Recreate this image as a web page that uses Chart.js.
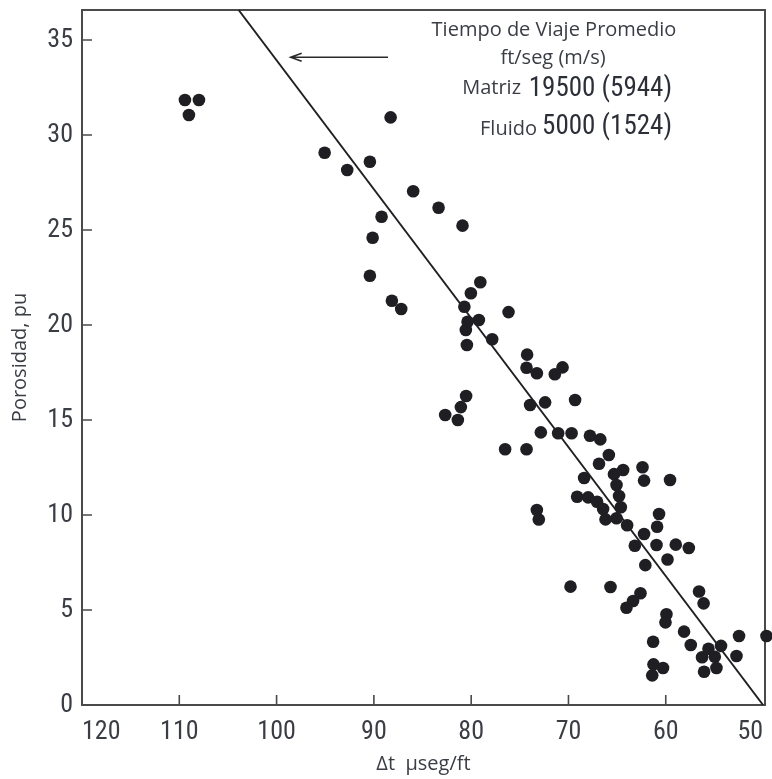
<!DOCTYPE html>
<html>
<head>
<meta charset="utf-8">
<style>
  html, body { margin: 0; padding: 0; background: #ffffff; }
  canvas { display: block; }
</style>
<script src="https://cdn.jsdelivr.net/npm/chart.js@4.4.1/dist/chart.umd.min.js"></script>
</head>
<body>
<canvas id="chart" width="772" height="779"></canvas>
<script>
// Sonic travel time (µs/ft) and measured porosity (pu) of each sample
const deltaT = [
  109.42, 107.98, 109.01, 88.28, 95.06, 92.74, 90.41, 85.96, 83.35, 80.89,
  89.21, 90.13, 90.41, 88.15, 87.19, 79.06, 80.03, 80.70, 76.16, 80.37,
  79.21, 80.55, 77.84, 80.44, 74.25, 74.31, 73.25, 71.40, 70.61, 80.52,
  81.06, 82.67, 81.37, 73.94, 72.40, 69.32, 72.84, 71.06, 69.68, 67.79,
  66.73, 76.51, 74.31, 65.85, 66.86, 64.38, 65.32, 62.39, 62.23, 59.56,
  68.39, 65.06, 69.11, 67.98, 67.06, 66.44, 64.80, 64.62, 66.19, 65.06,
  63.97, 73.25, 73.05, 60.69, 60.89, 62.23, 63.18, 60.95, 58.97, 57.63,
  59.82, 62.10, 69.79, 65.68, 62.60, 63.36, 64.04, 56.58, 56.11, 59.93,
  60.03, 58.12, 61.30, 57.43, 55.61, 54.32, 52.47, 49.65, 52.73, 56.27,
  54.96, 61.26, 60.28, 61.39, 56.06, 54.79
];
const porosity = [
  31.84, 31.84, 31.05, 30.93, 29.07, 28.16, 28.59, 27.04, 26.17, 25.23,
  25.70, 24.59, 22.59, 21.28, 20.84, 22.25, 21.67, 20.96, 20.68, 20.17,
  20.26, 19.74, 19.25, 18.95, 18.44, 17.75, 17.46, 17.41, 17.77, 16.26,
  15.68, 15.26, 15.00, 15.79, 15.93, 16.05, 14.35, 14.30, 14.30, 14.17,
  13.98, 13.46, 13.46, 13.16, 12.70, 12.37, 12.15, 12.51, 11.81, 11.84,
  11.95, 11.58, 10.96, 10.93, 10.70, 10.32, 11.00, 10.41, 9.77, 9.83,
  9.46, 10.26, 9.76, 10.05, 9.38, 9.00, 8.38, 8.42, 8.44, 8.26,
  7.66, 7.36, 6.23, 6.21, 5.88, 5.47, 5.12, 5.97, 5.35, 4.78,
  4.35, 3.86, 3.33, 3.16, 2.96, 3.11, 3.63, 3.63, 2.58, 2.51,
  2.54, 2.14, 1.95, 1.56, 1.75, 1.95
];

// Time-average (Wyllie) line, end points
const trendDeltaT = [103.9, 50];
const trendPorosity = [36.58, 0];

// Axis ticks
const xTicks = [50, 60, 70, 80, 90, 100, 110, 120];
const yTicks = [0, 5, 10, 15, 20, 25, 30, 35];

// Arrow pointing at the line (from / to, in Δt) and its porosity level
const arrowDeltaT = [88.55, 98.55];
const arrowPorosity = 34.09;

// Legend text
const legendTitle = ['Tiempo de Viaje Promedio', 'ft/seg (m/s)'];
const legendNames = ['Matriz', 'Fluido'];
const legendValues = ['19500 (5944)', '5000 (1524)'];

const NARROW = '"Liberation Sans Narrow", "Arial Narrow", "Roboto Condensed", sans-serif';
const SANS = '"Open Sans", "Noto Sans", sans-serif';
const AXIS_COLOR = '#4a4a4a';
const TEXT_COLOR = '#3a3d44';
const DOT_COLOR = '#1f1f23';

const scatterPoints = deltaT.map((x, i) => ({ x, y: porosity[i] }));
const trendPoints = trendDeltaT.map((x, i) => ({ x, y: trendPorosity[i] }));

// Frame around the plot and inward tick marks
const framePlugin = {
  id: 'frame',
  beforeDatasetsDraw(chart) {
    const { ctx, chartArea: a, scales } = chart;
    ctx.save();
    ctx.strokeStyle = AXIS_COLOR;
    ctx.lineWidth = 2;
    ctx.strokeRect(a.left, a.top, a.right - a.left, a.bottom - a.top);
    ctx.lineWidth = 1.6;
    ctx.beginPath();
    scales.x.ticks.forEach(t => {
      const px = scales.x.getPixelForValue(t.value);
      if (px > a.left + 2 && px < a.right - 2) {
        ctx.moveTo(px, a.bottom);
        ctx.lineTo(px, a.bottom - 10);
      }
    });
    scales.y.ticks.forEach(t => {
      const py = scales.y.getPixelForValue(t.value);
      if (py > a.top + 2 && py < a.bottom - 2) {
        ctx.moveTo(a.left, py);
        ctx.lineTo(a.left + 10, py);
      }
    });
    ctx.stroke();
    ctx.restore();
  }
};

// Legend block and arrow
const legendPlugin = {
  id: 'legendBlock',
  afterDatasetsDraw(chart) {
    const { ctx, scales } = chart;
    ctx.save();
    ctx.fillStyle = TEXT_COLOR;
    ctx.textBaseline = 'middle';
    ctx.font = '20px ' + SANS;
    ctx.textAlign = 'center';
    ctx.fillText(legendTitle[0], 554, 30);
    ctx.fillText(legendTitle[1], 553, 58);
    ctx.textAlign = 'right';
    ctx.fillText(legendNames[0], 521, 88);
    ctx.fillText(legendNames[1], 537, 129);
    ctx.font = '27px ' + NARROW;
    ctx.fillStyle = '#2c2f38';
    ctx.fillText(legendValues[0], 672, 89);
    ctx.fillText(legendValues[1], 672, 127);

    const y = scales.y.getPixelForValue(arrowPorosity);
    const x0 = scales.x.getPixelForValue(arrowDeltaT[0]);
    const x1 = scales.x.getPixelForValue(arrowDeltaT[1]);
    ctx.strokeStyle = '#2a2a2a';
    ctx.lineWidth = 1.6;
    ctx.beginPath();
    ctx.moveTo(x0, y);
    ctx.lineTo(x1, y);
    ctx.moveTo(x1 + 11, y - 4);
    ctx.lineTo(x1, y);
    ctx.lineTo(x1 + 11, y + 4);
    ctx.stroke();
    ctx.restore();
  }
};

new Chart(document.getElementById('chart'), {
  data: {
    datasets: [
      {
        type: 'line',
        data: trendPoints,
        borderColor: '#202024',
        borderWidth: 2,
        pointRadius: 0,
        fill: false,
        tension: 0,
        clip: false
      },
      {
        type: 'scatter',
        data: scatterPoints,
        backgroundColor: DOT_COLOR,
        borderWidth: 0,
        pointRadius: 6.3,
        pointHoverRadius: 6.3,
        clip: false
      }
    ]
  },
  options: {
    responsive: false,
    animation: false,
    events: [],
    layout: { padding: { top: 10, right: 7, bottom: 0, left: 0 } },
    plugins: { legend: { display: false }, tooltip: { enabled: false } },
    scales: {
      x: {
        type: 'linear',
        reverse: true,
        min: 49.8,
        max: 120,
        grid: { display: false, drawTicks: false },
        border: { display: false },
        ticks: {
          align: 'inner',
          padding: 12,
          maxRotation: 0,
          autoSkip: false,
          color: TEXT_COLOR,
          font: { family: NARROW, size: 26 }
        },
        title: {
          display: true,
          text: 'Δt  µseg/ft',
          color: TEXT_COLOR,
          font: { family: SANS, size: 20 },
          padding: { top: 0, bottom: 3 }
        },
        afterBuildTicks(s) { s.ticks = xTicks.map(v => ({ value: v })); },
        afterFit(s) {
          s.height = 74;
          s.paddingLeft = 0;
          s.paddingRight = 0;
        }
      },
      y: {
        type: 'linear',
        min: 0,
        max: 36.58,
        grid: { display: false, drawTicks: false },
        border: { display: false },
        ticks: {
          padding: 9,
          autoSkip: false,
          color: TEXT_COLOR,
          font: { family: NARROW, size: 26 }
        },
        title: {
          display: true,
          text: 'Porosidad, pu',
          color: TEXT_COLOR,
          font: { family: SANS, size: 20 },
          padding: { top: 8, bottom: 0 }
        },
        afterBuildTicks(s) { s.ticks = yTicks.map(v => ({ value: v })); },
        afterFit(s) {
          s.width = 82;
          s.paddingTop = 0;
          s.paddingBottom = 0;
        }
      }
    }
  },
  plugins: [framePlugin, legendPlugin]
});
</script>
</body>
</html>
